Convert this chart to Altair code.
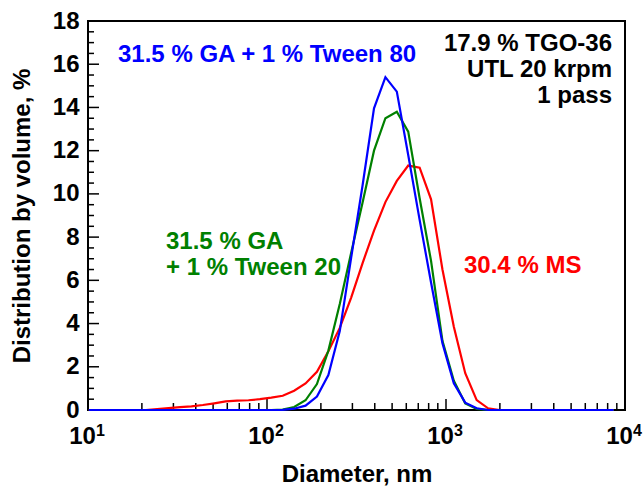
import altair as alt
import pandas as pd

# Zetasizer-style log-spaced size bins (nm)
diameter_nm = [10.1, 11.7, 13.54, 15.69, 18.17, 21.04, 24.36, 28.21, 32.67, 37.84,
               43.82, 50.75, 58.77, 68.06, 78.82, 91.28, 105.7, 122.4, 141.8, 164.2,
               190.1, 220.2, 255.0, 295.3, 342.0, 396.1, 458.7, 531.2, 615.1, 712.4,
               825.0, 955.4, 1106, 1281, 1484, 1718, 1990, 2305, 2669, 3091,
               3580, 4145, 4801, 5560, 6439, 7456, 8635]

ms_30_4 = [0, 0, 0, 0, 0, 0, 0.04, 0.09, 0.13, 0.17,
           0.23, 0.31, 0.40, 0.43, 0.45, 0.50, 0.57, 0.66, 0.89, 1.23,
           1.77, 2.72, 3.8, 5.2, 6.8, 8.3, 9.62, 10.6, 11.31, 11.21,
           9.75, 6.5, 3.85, 1.70, 0.46, 0.08, 0, 0, 0, 0,
           0, 0, 0, 0, 0, 0, 0]

ga_tween20 = [0, 0, 0, 0, 0, 0, 0, 0, 0, 0,
              0, 0, 0, 0, 0, 0, 0, 0.02, 0.14, 0.45,
              1.2, 2.75, 4.9, 7.28, 9.6, 12.0, 13.5, 13.8, 12.88, 9.8,
              6.9, 3.2, 1.35, 0.3, 0.05, 0, 0, 0, 0, 0,
              0, 0, 0, 0, 0, 0, 0]

ga_tween80 = [0, 0, 0, 0, 0, 0, 0, 0, 0, 0,
              0, 0, 0, 0, 0, 0, 0, 0.01, 0.06, 0.2,
              0.62, 1.62, 3.65, 7.05, 10.4, 13.96, 15.4, 14.73, 11.8, 8.8,
              5.9, 3.09, 1.23, 0.34, 0.08, 0, 0, 0, 0, 0,
              0, 0, 0, 0, 0, 0, 0]

series_names = ["30.4 % MS", "31.5 % GA + 1 % Tween 20", "31.5 % GA + 1 % Tween 80"]
series_values = [ms_30_4, ga_tween20, ga_tween80]
series_colors = ["#ff0000", "#008000", "#0000ff"]

x_major = [10, 100, 1000, 10000]
x_major_exponents = ["1", "2", "3", "4"]
x_minor = [20, 30, 40, 50, 60, 70, 80, 90,
           200, 300, 400, 500, 600, 700, 800, 900,
           2000, 3000, 4000, 5000, 6000, 7000, 8000, 9000]
y_major = [0, 2, 4, 6, 8, 10, 12, 14, 16, 18]
y_minor = [0.5, 1, 1.5, 2.5, 3, 3.5, 4.5, 5, 5.5, 6.5, 7, 7.5, 8.5, 9, 9.5,
           10.5, 11, 11.5, 12.5, 13, 13.5, 14.5, 15, 15.5, 16.5, 17, 17.5]

FONT = "Liberation Sans"
FS = 24
W, H = 537, 389

x_scale = alt.Scale(type="log", domain=[10, 10000], nice=False)
y_scale = alt.Scale(domain=[0, 18], nice=False, zero=False)

x_axis = alt.Axis(values=x_major, labelExpr="'10'", title="Diameter, nm",
                  ticks=False, domain=False, grid=False, labelPadding=14,
                  labelOffset=-6,
                  labelOverlap=False, labelBound=False, labelFlush=False,
                  titlePadding=14)
y_axis = alt.Axis(values=y_major, title="Distribution by volume, %",
                  ticks=False, domain=False, grid=False, labelPadding=9,
                  labelOverlap=False, titlePadding=18)

layers = []

# inward ticks
def xticks(vals, length):
    return alt.Chart(pd.DataFrame({"d": vals})).mark_rule(color="black", strokeWidth=1.5).encode(
        x=alt.X("d:Q", scale=x_scale, axis=x_axis),
        y=alt.value(H), y2=alt.value(H - length))

def yticks(vals, length):
    return alt.Chart(pd.DataFrame({"v": vals})).mark_rule(color="black", strokeWidth=1.5).encode(
        y=alt.Y("v:Q", scale=y_scale, axis=y_axis),
        x=alt.value(0), x2=alt.value(length))

layers += [xticks(x_minor, 7), xticks(x_major, 11), yticks(y_minor, 6), yticks(y_major, 11)]

# exponents of the decade labels
layers.append(
    alt.Chart(pd.DataFrame({"d": x_major, "e": x_major_exponents})).mark_text(
        font=FONT, fontWeight="bold", fontSize=16, color="black",
        align="left", baseline="alphabetic", dx=8
    ).encode(x=alt.X("d:Q", scale=x_scale, axis=x_axis), y=alt.value(H + 26), text="e:N")
)

for name, vals, col in zip(series_names, series_values, series_colors):
    df = pd.DataFrame({"d": diameter_nm, "v": vals})
    layers.append(
        alt.Chart(df).mark_line(color=col, strokeWidth=2.2, clip=False).encode(
            x=alt.X("d:Q", scale=x_scale, axis=x_axis),
            y=alt.Y("v:Q", scale=y_scale, axis=y_axis))
    )

# annotations
def label(text, x, y, color, align="left"):
    return alt.Chart(pd.DataFrame({"s": [text]})).mark_text(
        font=FONT, fontWeight="bold", fontSize=FS, color=color, align=align, baseline="middle"
    ).encode(text="s:N", x=alt.value(x), y=alt.value(y))

annot_black = ["17.9 % TGO-36", "UTL 20 krpm", "1 pass"]
layers += [
    label("31.5 % GA + 1 % Tween 80", 30, 34, "#0000ff"),
    label(annot_black[0], 524, 23, "black", "right"),
    label(annot_black[1], 524, 49, "black", "right"),
    label(annot_black[2], 524, 75, "black", "right"),
    label("31.5 % GA", 78, 221, "#008000"),
    label("+ 1 % Tween 20", 78, 247, "#008000"),
    label("30.4 % MS", 376, 245, "#ff0000"),
]

chart = alt.layer(*layers).properties(
    width=W, height=H,
    background="white",
    autosize=alt.AutoSizeParams(type="none"),
    padding={"left": 88, "top": 21, "right": 19, "bottom": 79},
).configure_view(
    stroke="black", strokeWidth=2
).configure_axis(
    labelFont=FONT, labelFontWeight="bold", labelFontSize=FS, labelColor="black",
    titleFont=FONT, titleFontWeight="bold", titleFontSize=FS, titleColor="black",
)

chart.save("out.html", embed_options={"renderer": "svg", "actions": False})
